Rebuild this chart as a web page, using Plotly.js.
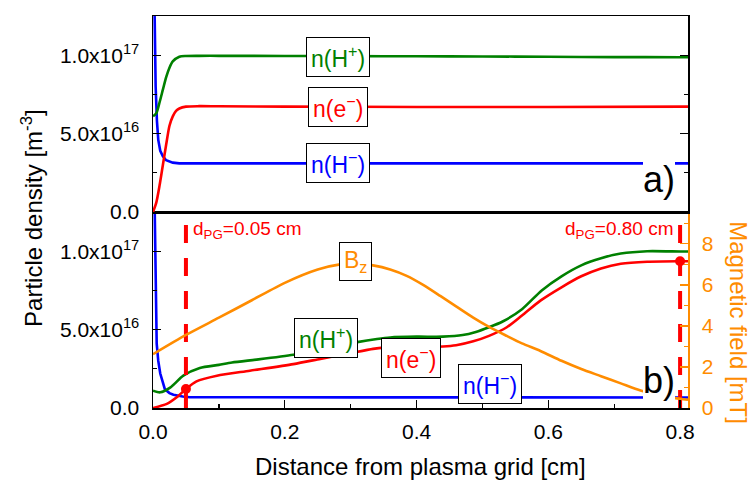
<!DOCTYPE html>
<html>
<head>
<meta charset="utf-8">
<script src="https://cdn.plot.ly/plotly-3.0.1.min.js"></script>
<style>html,body{margin:0;padding:0;background:#fff;}#chart{width:752px;height:480px;}</style>
</head>
<body>
<div id="chart"></div>
<script>
// ---- Panel a) data (particle density, m^-3) ----
var aHpX = [0, 0.005, 0.01, 0.015, 0.02, 0.025, 0.03, 0.04, 0.05, 0.07, 0.1, 0.2, 0.3, 0.4, 0.5, 0.6, 0.7, 0.8, 0.812];
var aHpY = [6.1e16, 6.3e16, 7.0e16, 7.8e16, 8.6e16, 9.2e16, 9.6e16, 9.9e16, 9.95e16, 9.96e16, 9.96e16, 9.95e16, 9.94e16, 9.93e16, 9.92e16, 9.9e16, 9.88e16, 9.87e16, 9.87e16];
var aEX = [0, 0.005, 0.01, 0.015, 0.02, 0.025, 0.03, 0.035, 0.04, 0.05, 0.07, 0.1, 0.2, 0.4, 0.6, 0.812];
var aEY = [0, 0.6e16, 1.7e16, 3.0e16, 4.3e16, 5.5e16, 6.1e16, 6.45e16, 6.6e16, 6.72e16, 6.75e16, 6.74e16, 6.72e16, 6.7e16, 6.7e16, 6.72e16];
var aHmX = [0, 0.002, 0.004, 0.006, 0.008, 0.011, 0.015, 0.02, 0.03, 0.04, 0.2, 0.4, 0.6, 0.812];
var aHmY = [2.0e17, 1.25e17, 8.0e16, 5.8e16, 4.6e16, 3.9e16, 3.55e16, 3.3e16, 3.15e16, 3.1e16, 3.1e16, 3.1e16, 3.1e16, 3.1e16];

// ---- Panel b) data ----
var bHpX = [0, 0.011, 0.026, 0.046, 0.071, 0.1, 0.12, 0.16, 0.213, 0.25, 0.28, 0.31, 0.34, 0.36, 0.4, 0.44, 0.47, 0.49, 0.51, 0.53, 0.56, 0.59, 0.62, 0.65, 0.68, 0.71, 0.75, 0.8, 0.812];
var bHpY = [1.1e16, 1.0e16, 1.3e16, 2.06e16, 2.55e16, 2.75e16, 2.9e16, 3.1e16, 3.4e16, 3.7e16, 3.95e16, 4.2e16, 4.4e16, 4.5e16, 4.55e16, 4.55e16, 4.65e16, 4.85e16, 5.15e16, 5.5e16, 6.3e16, 7.5e16, 8.4e16, 9.1e16, 9.55e16, 9.85e16, 1.0e17, 0.998e17, 0.998e17];
var bEX = [0, 0.021, 0.036, 0.05, 0.066, 0.097, 0.147, 0.213, 0.254, 0.3, 0.334, 0.35, 0.44, 0.46, 0.486, 0.51, 0.537, 0.56, 0.588, 0.62, 0.65, 0.68, 0.71, 0.75, 0.8, 0.812];
var bEY = [0, 0.26e16, 0.68e16, 1.21e16, 1.7e16, 2.06e16, 2.38e16, 2.8e16, 3.13e16, 3.5e16, 3.77e16, 3.85e16, 3.92e16, 4.0e16, 4.25e16, 4.6e16, 5.15e16, 5.9e16, 6.85e16, 7.7e16, 8.4e16, 8.9e16, 9.2e16, 9.33e16, 9.36e16, 9.36e16];
var bHmX = [0, 0.002, 0.004, 0.0056, 0.008, 0.011, 0.018, 0.025, 0.031, 0.045, 0.056, 0.1, 0.3, 0.5, 0.7, 0.812];
var bHmY = [2.0e17, 1.3e17, 6.5e16, 4.1e16, 3.0e16, 2.2e16, 1.2e16, 9.5e15, 8.5e15, 7.3e15, 6.9e15, 6.8e15, 6.8e15, 6.8e15, 6.7e15, 6.7e15];
// magnetic field Bz (mT)
var bzX = [0, 0.05, 0.1, 0.15, 0.2, 0.25, 0.284, 0.31, 0.334, 0.36, 0.385, 0.41, 0.436, 0.46, 0.486, 0.51, 0.537, 0.56, 0.588, 0.62, 0.65, 0.68, 0.71, 0.74, 0.77, 0.8, 0.812];
var bzY = [2.62, 3.56, 4.4, 5.25, 6.1, 6.75, 7.0, 7.04, 6.95, 6.75, 6.44, 6.0, 5.46, 4.95, 4.4, 3.95, 3.51, 3.15, 2.78, 2.3, 1.9, 1.55, 1.2, 0.85, 0.6, 0.45, 0.4];
// marked positions d_PG
var dpgX = [0.05, 0.8];
var dpgE = [1.21e16, 9.36e16];
var densMax = 1.25e17;

var yTickVals = [0, 5e16, 1e17];
var yTickText = ['0.0', '5.0x10<sup>16</sup>', '1.0x10<sup>17</sup>'];
var xTickVals = [0, 0.2, 0.4, 0.6, 0.8];
var bTickVals = [0, 2, 4, 6, 8];

var GREEN = '#008000', RED = '#FF0000', BLUE = '#0000FF', ORANGE = '#FF8C00';
var FONT = '"Liberation Sans", Arial, sans-serif';
var LW = 2.6;
var SM = {shape: 'spline', smoothing: 0.7};

function ln(color, smooth) {
  var l = {color: color, width: LW};
  if (smooth) { l.shape = SM.shape; l.smoothing = SM.smoothing; }
  return l;
}

var traces = [
  {x: aHmX, y: aHmY, xaxis: 'x2', yaxis: 'y2', mode: 'lines', line: ln(BLUE, false)},
  {x: aEX, y: aEY, xaxis: 'x2', yaxis: 'y2', mode: 'lines', line: ln(RED, true)},
  {x: aHpX, y: aHpY, xaxis: 'x2', yaxis: 'y2', mode: 'lines', line: ln(GREEN, true)},
  {x: bzX, y: bzY, xaxis: 'x', yaxis: 'y3', mode: 'lines', line: ln(ORANGE, true)},
  {x: bHmX, y: bHmY, xaxis: 'x', yaxis: 'y', mode: 'lines', line: ln(BLUE, false)},
  {x: bEX, y: bEY, xaxis: 'x', yaxis: 'y', mode: 'lines', line: ln(RED, true)},
  {x: bHpX, y: bHpY, xaxis: 'x', yaxis: 'y', mode: 'lines', line: ln(GREEN, true)}
];
dpgX.forEach(function (xv, i) {
  traces.push({x: [xv, xv], y: [0, densMax], xaxis: 'x', yaxis: 'y', mode: 'lines',
    line: {color: RED, width: 4, dash: '18px,15px'}});
  traces.push({x: [xv], y: [dpgE[i]], xaxis: 'x', yaxis: 'y', mode: 'markers',
    marker: {color: RED, size: 10}});
});

function yax(domain, anchor, mirror) {
  return {domain: domain, anchor: anchor, range: [0, densMax], tickvals: yTickVals, ticktext: yTickText,
    ticks: 'inside', ticklen: 8, tickwidth: 1.3, tickcolor: '#000',
    minor: {dtick: 2.5e16, tick0: 0, ticks: 'inside', ticklen: 4, tickwidth: 1.3, tickcolor: '#000'},
    showline: true, linecolor: '#000', linewidth: 1.5, mirror: mirror, showgrid: false, zeroline: false,
    ticklabelstandoff: 8, tickfont: {size: 21, color: '#000', family: FONT}};
}

function lab(text, x, y, color, xr, yr, opts) {
  var a = {text: text, x: x, y: y, xref: xr, yref: yr, showarrow: false,
    font: {size: 23, color: color, family: FONT}, bgcolor: '#fff', bordercolor: '#000', borderwidth: 1, borderpad: 4,
    xanchor: 'center', yanchor: 'middle'};
  if (opts) for (var k in opts) a[k] = opts[k];
  return a;
}

var layout = {
  width: 752, height: 480,
  margin: {l: 153, r: 64, t: 16, b: 72},
  paper_bgcolor: '#fff', plot_bgcolor: '#fff',
  showlegend: false,
  font: {family: FONT, color: '#000'},
  xaxis: {domain: [0, 1], anchor: 'y', range: [0, 0.812], tickvals: xTickVals, tickformat: '.1f',
    ticks: 'inside', ticklen: 8, tickwidth: 1.3, tickcolor: '#000',
    minor: {dtick: 0.1, tick0: 0, ticks: 'inside', ticklen: 4, tickwidth: 1.3, tickcolor: '#000'},
    showline: true, linecolor: '#000', linewidth: 1.5, mirror: true, showgrid: false, zeroline: false,
    ticklabelstandoff: 4, tickfont: {size: 21, color: '#000', family: FONT}},
  xaxis2: {domain: [0, 1], anchor: 'y2', range: [0, 0.812], showticklabels: false, ticks: '',
    showline: true, linecolor: '#000', linewidth: 1.5, mirror: true, showgrid: false, zeroline: false},
  yaxis: yax([0, 0.5], 'x', false),
  yaxis2: yax([0.5, 1], 'x2', 'ticks'),
  yaxis3: {overlaying: 'y', side: 'right', anchor: 'x', range: [0, 9.55], tickvals: bTickVals,
    ticks: 'inside', ticklen: 8, tickwidth: 1.3, tickcolor: ORANGE,
    minor: {dtick: 1, tick0: 0, ticks: 'inside', ticklen: 4, tickwidth: 1.3, tickcolor: ORANGE},
    showline: true, linecolor: ORANGE, linewidth: 1.5, showgrid: false, zeroline: false,
    ticklabelstandoff: 8, tickfont: {size: 21, color: ORANGE, family: FONT}},
  annotations: [
    lab('n(H<sup>+</sup>)', 0.281, 9.9e16, GREEN, 'x2', 'y2'),
    lab('n(e<sup>−</sup>)', 0.281, 6.72e16, RED, 'x2', 'y2'),
    lab('n(H<sup>−</sup>)', 0.281, 3.1e16, BLUE, 'x2', 'y2'),
    lab('a)', 0.768, 2.1e16, '#000', 'x2', 'y2', {borderwidth: 0, borderpad: 0, font: {size: 36, color: '#000', family: FONT}}),
    lab('B<sub>z</sub>', 0.307, 9.32e16, ORANGE, 'x', 'y'),
    lab('n(H<sup>+</sup>)', 0.263, 4.49e16, GREEN, 'x', 'y'),
    lab('n(e<sup>−</sup>)', 0.391, 3.21e16, RED, 'x', 'y'),
    lab('n(H<sup>−</sup>)', 0.512, 1.56e16, BLUE, 'x', 'y'),
    lab('b)', 0.768, 1.74e16, '#000', 'x', 'y', {borderwidth: 0, borderpad: 0, font: {size: 36, color: '#000', family: FONT}}),
    lab('d<sub>PG</sub>=0.05 cm', 0.0607, 1.135e17, RED, 'x', 'y', {xanchor: 'left', borderwidth: 0, borderpad: 0, bgcolor: 'rgba(0,0,0,0)', font: {size: 19, color: RED, family: FONT}}),
    lab('d<sub>PG</sub>=0.80 cm', 0.789, 1.135e17, RED, 'x', 'y', {xanchor: 'right', borderwidth: 0, borderpad: 0, bgcolor: 'rgba(0,0,0,0)', font: {size: 19, color: RED, family: FONT}}),
    {text: 'Distance from plasma grid [cm]', xref: 'paper', yref: 'paper', x: 0.5, y: -0.148, showarrow: false,
      xanchor: 'center', yanchor: 'middle', font: {size: 24, color: '#000', family: FONT}},
    {text: 'Particle density [m<sup>-3</sup>]', xref: 'paper', yref: 'paper', x: -0.226, y: 0.485, showarrow: false,
      textangle: -90, xanchor: 'center', yanchor: 'middle', font: {size: 24, color: '#000', family: FONT}},
    {text: 'Magnetic field [mT]', xref: 'paper', yref: 'paper', x: 1.093, y: 0.217, showarrow: false,
      textangle: 90, xanchor: 'center', yanchor: 'middle', font: {size: 24, color: ORANGE, family: FONT}}
  ]
};

Plotly.newPlot('chart', traces, layout, {displayModeBar: false, staticPlot: true});
</script>
</body>
</html>
